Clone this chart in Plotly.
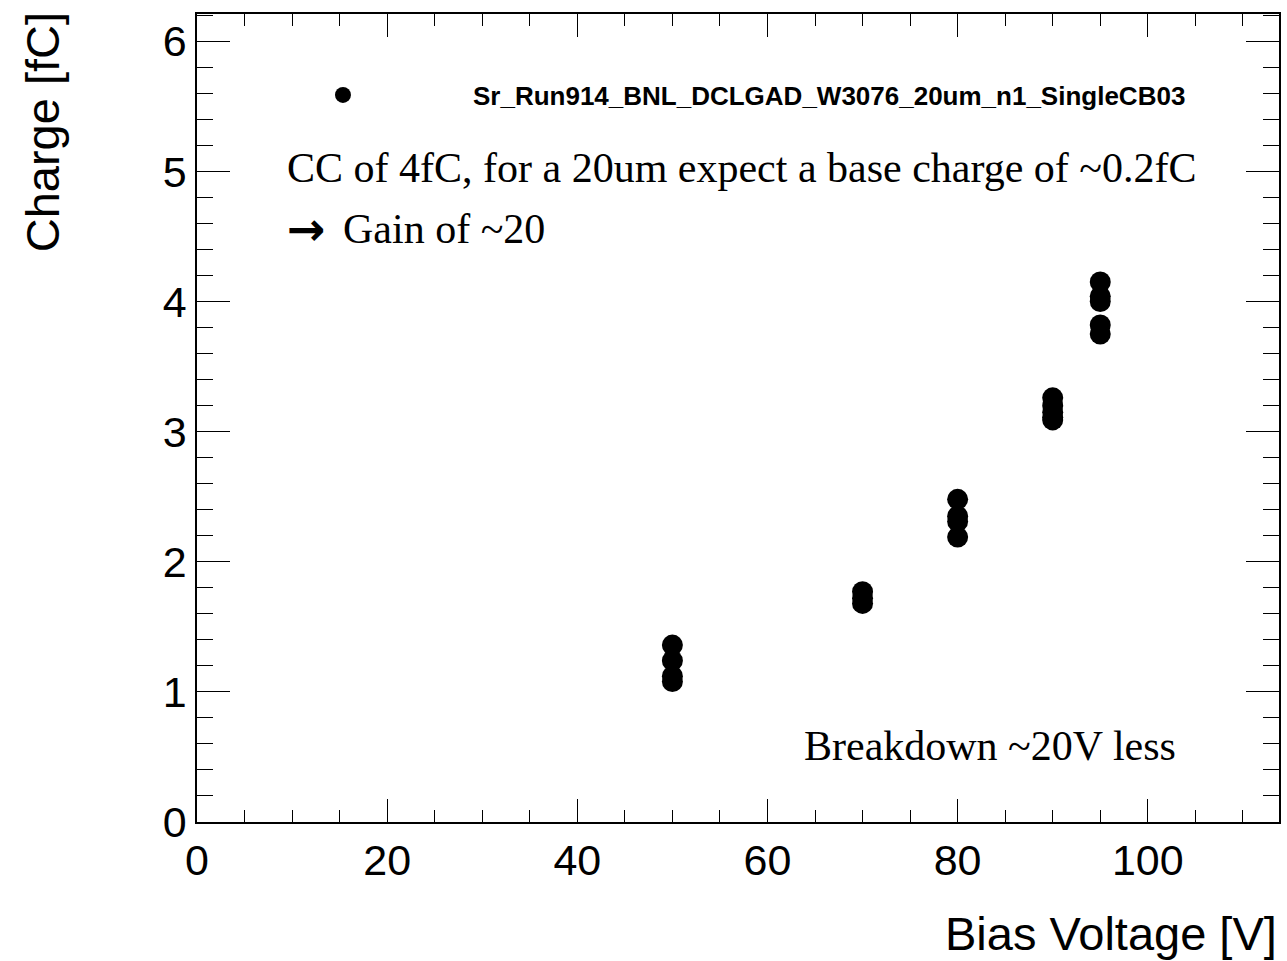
import plotly.graph_objects as go

# Data
bias_voltage = [50, 50, 50, 50,
                70, 70, 70,
                80, 80, 80, 80,
                90, 90, 90, 90, 90,
                95, 95, 95, 95, 95]
charge = [1.36, 1.24, 1.12, 1.08,
          1.77, 1.72, 1.68,
          2.48, 2.35, 2.31, 2.19,
          3.26, 3.20, 3.15, 3.11, 3.09,
          4.15, 4.04, 4.00, 3.82, 3.75]
series_name = "Sr_Run914_BNL_DCLGAD_W3076_20um_n1_SingleCB03"
x_title = "Bias Voltage [V]"
y_title = "Charge [fC]"
note_line1 = "CC of 4fC, for a 20um expect a base charge of ~0.2fC"
note_arrow = "\u2192"
note_line2 = "Gain of ~20"
note_breakdown = "Breakdown ~20V less"

W, H = 1287, 961
L, R, T, B = 197, 6, 14, 139

fig = go.Figure()
fig.add_trace(go.Scatter(
    x=bias_voltage, y=charge, mode="markers", name=series_name,
    marker=dict(color="black", size=21, line=dict(width=0)),
))

axis_common = dict(
    showgrid=False, zeroline=False, showline=True, linecolor="black",
    linewidth=1.5, mirror="ticks", ticks="inside", tickcolor="black",
    tickwidth=1.2, tickfont=dict(family="Liberation Sans, Arial", size=43, color="black"),
)
fig.update_xaxes(range=[0, 113.8], dtick=20, tick0=0, ticklen=23,
                 minor=dict(dtick=5, ticks="inside", ticklen=12, tickcolor="black", tickwidth=1.2),
                 **axis_common)
fig.update_yaxes(range=[0, 6.21], dtick=1, tick0=0, ticklen=33,
                 minor=dict(dtick=0.2, ticks="inside", ticklen=16, tickcolor="black", tickwidth=1.2),
                 **axis_common)

serif = "Liberation Serif, Times New Roman, serif"
px = lambda x: (x - L) / (W - L - R)
py = lambda y: (H - B - y) / (H - T - B)
annos = [
    dict(text=x_title, x=1.0, y=-0.138, xref="paper", yref="paper",
         xanchor="right", yanchor="middle", showarrow=False,
         font=dict(family="Liberation Sans, Arial", size=47, color="black")),
    dict(text=y_title, x=-0.142, y=1.005, xref="paper", yref="paper",
         xanchor="center", yanchor="top", textangle=-90, showarrow=False,
         font=dict(family="Liberation Sans, Arial", size=47, color="black")),
    dict(text=note_line1, x=px(285), y=py(168),
         xref="paper", yref="paper", xanchor="left", yanchor="middle", showarrow=False,
         font=dict(family=serif, size=42, color="black")),
    dict(text="<b>" + note_arrow + "</b>", x=px(285), y=py(229),
         xref="paper", yref="paper", xanchor="left", yanchor="middle", showarrow=False,
         font=dict(family="DejaVu Sans", size=46, color="black")),
    dict(text=note_line2, x=px(341), y=py(229),
         xref="paper", yref="paper", xanchor="left", yanchor="middle", showarrow=False,
         font=dict(family=serif, size=42, color="black")),
    dict(text=note_breakdown, x=px(1180), y=py(746),
         xref="paper", yref="paper", xanchor="right", yanchor="middle", showarrow=False,
         font=dict(family=serif, size=42, color="black")),
]

fig.update_layout(
    width=W, height=H,
    margin=dict(l=L, r=R, t=T, b=B),
    plot_bgcolor="white", paper_bgcolor="white",
    showlegend=True,
    legend=dict(x=px(213), y=py(95),
                xanchor="left", yanchor="middle", xref="paper", yref="paper",
                bgcolor="rgba(0,0,0,0)", borderwidth=0, itemwidth=250,
                font=dict(family="Liberation Sans, Arial", size=26, color="black", weight="bold")),
    annotations=annos,
)

fig.write_html("out.html")
